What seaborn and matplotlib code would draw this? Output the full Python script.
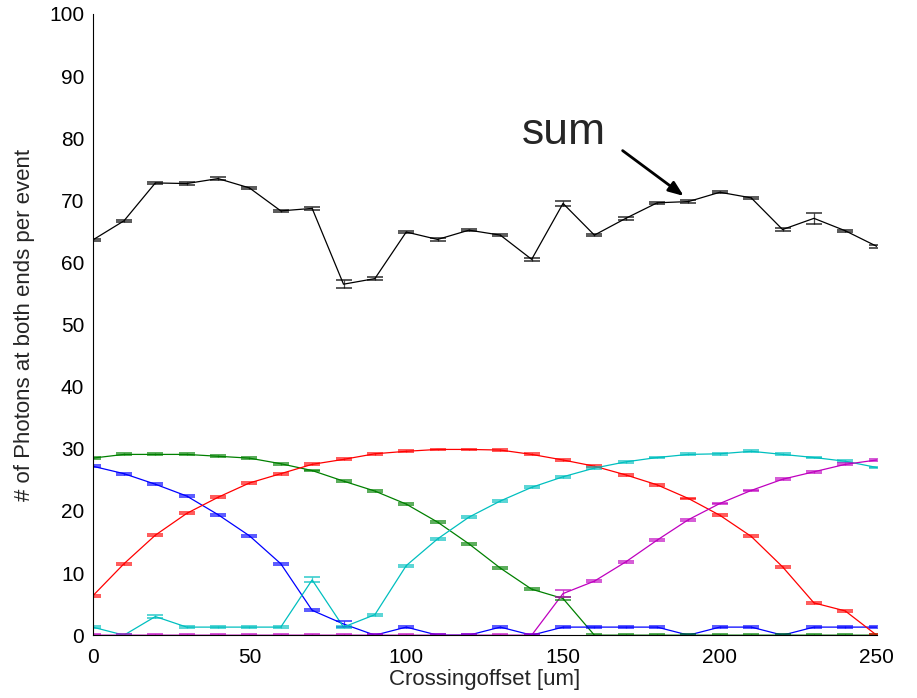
import numpy as np
import pandas as pd
import matplotlib
matplotlib.use("Agg")
import matplotlib.pyplot as plt
import seaborn as sns

# crossing offset in um
offset = [0, 10, 20, 30, 40, 50, 60, 70, 80, 90, 100, 110, 120, 130, 140,
          150, 160, 170, 180, 190, 200, 210, 220, 230, 240, 250]

blue = [27.2, 26.0, 24.3, 22.4, 19.4, 16.0, 11.5, 4.0, 1.8, 0.0, 1.3, 0.0, 0.0,
        1.3, 0.0, 1.3, 1.3, 1.3, 1.3, 0.0, 1.3, 1.3, 0.0, 1.3, 1.3, 1.3]
green = [28.5, 29.1, 29.1, 29.1, 28.8, 28.5, 27.6, 26.5, 24.8, 23.2, 21.1, 18.2,
         14.7, 10.8, 7.4, 5.9, 0.0, 0.0, 0.0, 0.0, 0.0, 0.0, 0.0, 0.0, 0.0, 0.0]
red = [6.3, 11.5, 16.1, 19.6, 22.2, 24.5, 26.0, 27.5, 28.3, 29.2, 29.6, 29.9,
       29.9, 29.8, 29.1, 28.2, 27.2, 25.8, 24.2, 22.0, 19.3, 15.9, 11.0, 5.2, 3.9, 0.0]
cyan = [1.3, 0.0, 3.0, 1.3, 1.3, 1.3, 1.3, 8.9, 1.3, 3.3, 11.2, 15.5, 19.0, 21.6,
        23.8, 25.5, 26.9, 27.9, 28.6, 29.1, 29.2, 29.6, 29.1, 28.6, 28.0, 27.0]
magenta = [0.0, 0.0, 0.0, 0.0, 0.0, 0.0, 0.0, 0.0, 0.0, 0.0, 0.0, 0.0, 0.0, 0.0,
           0.0, 6.7, 8.7, 11.8, 15.3, 18.6, 21.2, 23.3, 25.1, 26.3, 27.5, 28.2]
total = [63.6, 66.7, 72.8, 72.7, 73.5, 72.0, 68.3, 68.7, 56.5, 57.4, 64.9, 63.7,
         65.2, 64.4, 60.5, 69.5, 64.4, 67.1, 69.6, 69.8, 71.3, 70.4, 65.3, 67.1,
         65.1, 62.6]

# error bars (half widths), mostly tiny
blue_err = [0.15] * 26
blue_err[8] = 0.5
green_err = [0.15] * 26
green_err[15] = 0.3
red_err = [0.15] * 26
cyan_err = [0.15] * 26
cyan_err[2] = 0.3
cyan_err[7] = 0.4
magenta_err = [0.15] * 26
magenta_err[15] = 0.5
total_err = [0.2] * 26
total_err[8] = 0.6
total_err[15] = 0.35
total_err[23] = 0.9

series = {
    "blue": (blue, blue_err, (0, 0, 1)),
    "green": (green, green_err, (0, 0.5, 0)),
    "red": (red, red_err, (1, 0, 0)),
    "cyan": (cyan, cyan_err, (0, 0.75, 0.75)),
    "magenta": (magenta, magenta_err, (0.75, 0, 0.75)),
    "sum": (total, total_err, (0, 0, 0)),
}

df = pd.concat([
    pd.DataFrame({"offset": offset, "photons": vals, "err": errs, "series": name})
    for name, (vals, errs, _) in series.items()
], ignore_index=True)
palette = {name: c for name, (_, _, c) in series.items()}

sns.set_style("white")
plt.rcParams["font.family"] = ["Liberation Sans", "DejaVu Sans"]

fig = plt.figure(figsize=(9.17, 6.98), dpi=100)
ax = fig.add_axes([0.101, 0.09, 0.855, 0.89])

sns.lineplot(data=df, x="offset", y="photons", hue="series", palette=palette,
             linewidth=0.9, legend=False, ax=ax, errorbar=None)
for name, (vals, errs, c) in series.items():
    ax.errorbar(offset, vals, yerr=errs, fmt="none", ecolor=c, elinewidth=0.9,
                capsize=5.8, capthick=1.3, alpha=0.7)

ax.set_xlim(0, 250)
ax.set_ylim(0, 100)
ax.set_xticks(np.arange(0, 251, 50))
ax.set_yticks(np.arange(0, 101, 10))
ax.tick_params(direction="in", length=6, width=0.8, labelsize=15, colors="black", pad=6)
ax.tick_params(axis="x", pad=9)
for s in ["top", "right"]:
    ax.spines[s].set_visible(False)
for s in ["left", "bottom"]:
    ax.spines[s].set_color("black")
    ax.spines[s].set_linewidth(0.8)

ax.set_xlabel("Crossingoffset [um]", fontsize=16, labelpad=2)
ax.set_ylabel("# of Photons at both ends per event", fontsize=16, labelpad=10)

ax.text(137, 79, "sum", fontsize=32, ha="left", va="baseline")
ax.annotate("", xy=(188.5, 70.7), xytext=(169, 78),
            arrowprops=dict(arrowstyle="-|>,head_length=0.9,head_width=0.35",
                            color="black", lw=2, shrinkA=0, shrinkB=0))

fig.savefig("out.png", dpi=100)
